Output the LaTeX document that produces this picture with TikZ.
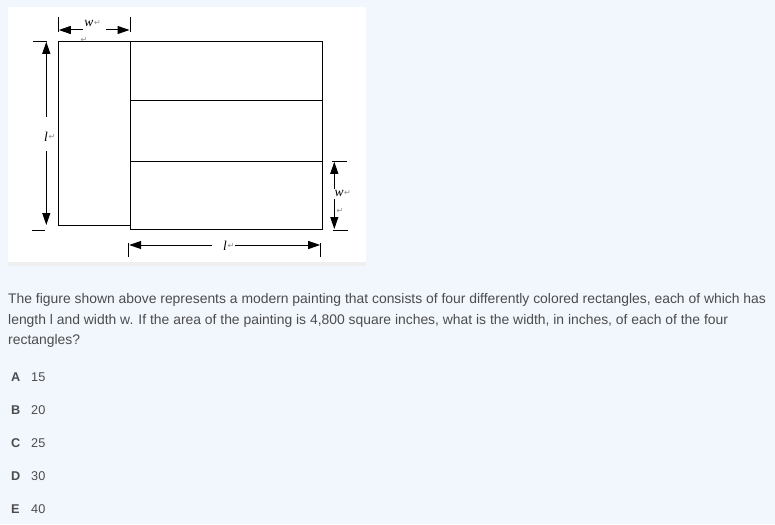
\documentclass[tikz,border=0pt]{standalone}
\usepackage{fontspec}
\setmainfont{Liberation Sans}
\newfontfamily\labfont{Liberation Serif}
\newfontfamily\symfont{DejaVu Sans}
\usetikzlibrary{arrows.meta}
\definecolor{bgblue}{HTML}{F2F7FE}
\definecolor{txtgrey}{HTML}{4C4C4C}
\definecolor{stripgrey}{HTML}{EFEFEF}
\definecolor{retgrey}{HTML}{8A8A8A}
\tikzset{
  edge/.style={draw=black, line width=1pt},
  dimline/.style={draw=black, line width=1pt},
  dimarrow/.style={draw=black, line width=1pt, -{Triangle[length=12pt,width=8pt]}},
  lab/.style={inner sep=0pt, font=\labfont\itshape\fontsize{13.5}{13.5}\selectfont},
  ret/.style={inner sep=0pt, text=retgrey, font=\symfont\fontsize{8}{8}\selectfont},
  retafter/.style={ret, anchor=west, xshift=0.3pt},
  body/.style={anchor=base west, inner sep=0pt, text=txtgrey, font=\fontsize{13.9}{17}\selectfont},
  letter/.style={anchor=base west, inner sep=0pt, text=txtgrey, font=\bfseries\fontsize{12.7}{14}\selectfont},
  num/.style={anchor=base west, inner sep=0pt, text=txtgrey, font=\fontsize{12.7}{14}\selectfont}
}
\begin{document}
\begin{tikzpicture}[x=1pt, y=-1pt]
\useasboundingbox (0,0) rectangle (775,524);
\fill[bgblue] (0,0) rectangle (775,524);
\fill[white] (8,7) rectangle (366,261.5);
\fill[stripgrey] (8,261.5) rectangle (366,266);

% painting corners
\coordinate (LT) at (58.3,41.3);
\coordinate (LB) at (58.3,225.3);
\coordinate (MT) at (130,41.3);
\coordinate (MB) at (130,225.3);
\coordinate (RT) at (322.3,41.3);
\coordinate (RB) at (322.3,229.3);
\coordinate (MBB) at (130,229.3);
\coordinate (D1L) at (130,101);
\coordinate (D1R) at (322.3,101);
\coordinate (D2L) at (130,161.3);
\coordinate (D2R) at (322.3,161.3);

\draw[edge] (LT) rectangle (MB);
\draw[edge] (MT) -- (RT) -- (RB) -- (MBB) -- (MT);
\draw[edge] (D1L) -- (D1R);
\draw[edge] (D2L) -- (D2R);

% top dimension w
\coordinate (tt1a) at (58.3,16.7); \coordinate (tt1b) at (58.3,32.3);
\coordinate (tt2a) at (130,16.7);  \coordinate (tt2b) at (130,32.3);
\draw[dimline] (tt1a) -- (tt1b);
\draw[dimline] (tt2a) -- (tt2b);
\node[lab] (wtop) at (89,23) {w};
\node[retafter] (wtopret) at (wtop.east) {↵};
\coordinate (tgL) at (83,30); \coordinate (tgR) at (106,30);
\coordinate (taL) at (58.8,30); \coordinate (taR) at (129.5,30);
\draw[dimarrow] (tgL) -- (taL);
\draw[dimarrow] (tgR) -- (taR);
\node[ret] (topret) at (84,39.5) {↵};

% left dimension l
\coordinate (le1a) at (33,41.3); \coordinate (le1b) at (47,41.3);
\coordinate (le2a) at (32,230.7); \coordinate (le2b) at (45,230.7);
\draw[dimline] (le1a) -- (le1b);
\draw[dimline] (le2a) -- (le2b);
\node[lab] (lleft) at (46,136.5) {l};
\node[retafter] (lleftret) at (lleft.east) {↵};
\coordinate (lgT) at (46.3,117); \coordinate (lgB) at (46.3,151);
\coordinate (laT) at (46.3,41.8); \coordinate (laB) at (46.3,225);
\draw[dimarrow] (lgT) -- (laT);
\draw[dimarrow] (lgB) -- (laB);

% right dimension w
\coordinate (re1a) at (332,161.3); \coordinate (re1b) at (347,161.3);
\coordinate (re2a) at (333,230.7); \coordinate (re2b) at (348,230.7);
\draw[dimline] (re1a) -- (re1b);
\draw[dimline] (re2a) -- (re2b);
\node[lab] (wright) at (339,193) {w};
\node[retafter] (wrightret) at (wright.east) {↵};
\node[ret] (rightret) at (340,210.5) {↵};
\coordinate (rgT) at (334.3,189); \coordinate (rgB) at (334.3,199);
\coordinate (raT) at (334.3,161.8); \coordinate (raB) at (334.3,229);
\draw[dimarrow] (rgT) -- (raT);
\draw[dimarrow] (rgB) -- (raB);

% bottom dimension l
\coordinate (bt1a) at (128.7,243); \coordinate (bt1b) at (128.7,256.7);
\coordinate (bt2a) at (320.7,243); \coordinate (bt2b) at (320.7,256.7);
\draw[dimline] (bt1a) -- (bt1b);
\draw[dimline] (bt2a) -- (bt2b);
\node[lab] (lbot) at (225,245.5) {l};
\node[retafter] (lbotret) at (lbot.east) {↵};
\coordinate (bgL) at (212,245); \coordinate (bgR) at (235,245);
\coordinate (baL) at (129.2,245); \coordinate (baR) at (320.2,245);
\draw[dimarrow] (bgL) -- (baL);
\draw[dimarrow] (bgR) -- (baR);

% question text
\node[body] (q1) at (8,303.3) {The figure shown above represents a modern painting that consists of four differently colored rectangles, each of which has};
\node[body] (q2) at (8,324.3) {length l and width w. If the area of the painting is 4,800 square inches, what is the width, in inches, of each of the four};
\node[body] (q3) at (8,344.3) {rectangles?};

% choices
\node[letter] (ca) at (11,381.3) {A}; \node[num] (na) at (31,381.3) {15};
\node[letter] (cb) at (11,414.3) {B}; \node[num] (nb) at (31,414.3) {20};
\node[letter] (cc) at (11,447.3) {C}; \node[num] (nc) at (31,447.3) {25};
\node[letter] (cd) at (11,480.3) {D}; \node[num] (nd) at (31,480.3) {30};
\node[letter] (ce) at (11,513.3) {E}; \node[num] (ne) at (31,513.3) {40};
\end{tikzpicture}
\end{document}
